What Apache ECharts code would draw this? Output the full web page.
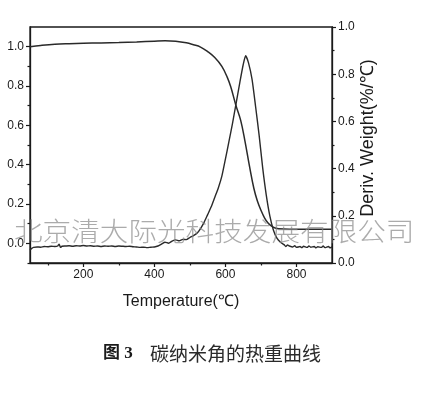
<!DOCTYPE html>
<html>
<head>
<meta charset="utf-8">
<script src="https://cdn.jsdelivr.net/npm/echarts@6/dist/echarts.min.js"></script>
<style>
html,body{margin:0;padding:0;background:#fff;}
#chart{width:435px;height:395px;}
</style>
</head>
<body>
<div id="chart"></div>
<script>
// ---- data ----
const tgTemps  = [50, 80, 120, 160, 200, 250, 300, 350, 400, 430, 460, 490, 510, 530, 550, 570, 590, 605, 615, 629, 643, 655, 668, 680, 690, 700, 710, 720, 730, 740, 750, 780, 820, 900];
const tgValues = [1.000, 1.006, 1.012, 1.015, 1.017, 1.019, 1.021, 1.024, 1.028, 1.030, 1.028, 1.020, 1.010, 0.998, 0.975, 0.945, 0.900, 0.845, 0.796, 0.705, 0.625, 0.520, 0.390, 0.280, 0.215, 0.168, 0.130, 0.103, 0.087, 0.078, 0.074, 0.072, 0.072, 0.072];

const dtgTemps  = [50, 55, 60, 70, 80, 90, 100, 110, 120, 128, 132, 136, 140, 150, 160, 170, 180, 190, 200, 210, 220, 230, 240, 250, 260, 270, 280, 290, 300, 310, 320, 330, 340, 350, 360, 370, 380, 390, 400, 410, 420, 430, 440, 450, 460, 470, 480, 490, 500, 510, 520, 530, 540, 550, 560, 570, 580, 590, 600, 610, 620, 630, 640, 650, 657, 665, 675, 685, 695, 705, 715, 725, 735, 745, 755, 765, 770, 775, 780, 790, 795, 800, 810, 815, 820, 830, 835, 840, 850, 855, 860, 870, 875, 880, 890, 895, 900];
const dtgValues = [0.055, 0.062, 0.066, 0.068, 0.067, 0.070, 0.069, 0.071, 0.070, 0.072, 0.080, 0.066, 0.071, 0.072, 0.073, 0.071, 0.073, 0.072, 0.074, 0.072, 0.073, 0.071, 0.072, 0.070, 0.072, 0.071, 0.072, 0.070, 0.072, 0.071, 0.070, 0.071, 0.069, 0.068, 0.066, 0.067, 0.065, 0.067, 0.068, 0.072, 0.080, 0.088, 0.084, 0.093, 0.098, 0.094, 0.100, 0.099, 0.108, 0.116, 0.126, 0.146, 0.172, 0.205, 0.238, 0.278, 0.318, 0.368, 0.440, 0.515, 0.592, 0.675, 0.760, 0.840, 0.878, 0.848, 0.778, 0.662, 0.540, 0.402, 0.288, 0.200, 0.140, 0.105, 0.088, 0.078, 0.070, 0.076, 0.072, 0.068, 0.073, 0.066, 0.070, 0.065, 0.071, 0.066, 0.072, 0.067, 0.070, 0.064, 0.069, 0.066, 0.072, 0.065, 0.070, 0.064, 0.068];

const xMajorTicks = [200, 400, 600, 800];
const xMinorTicks = [100, 300, 500, 700];
const leftMajorTicks = [0.0, 0.2, 0.4, 0.6, 0.8, 1.0];
const leftMinorTicks = [-0.1, 0.1, 0.3, 0.5, 0.7, 0.9];

const xTitle = 'Temperature(℃)';
const rightTitle = 'Deriv. Weight(%/℃)';
const watermark = '北京清大际光科技发展有限公司';
const captionBold = '图 3';
const captionText = '碳纳米角的热重曲线';

// ---- chart ----
const chart = echarts.init(document.getElementById('chart'), null, {renderer: 'canvas'});
const ink = '#1a1a1a';
const lblFont = {color: ink, fontSize: 12, fontFamily: 'Liberation Sans, Arial, sans-serif'};
const axLine = {show: true, onZero: false, lineStyle: {color: ink, width: 1.3}};

const tgData = tgTemps.map((t, i) => [t, tgValues[i]]);
const dtgData = dtgTemps.map((t, i) => [t, dtgValues[i]]);

chart.setOption({
  animation: false,
  backgroundColor: '#fff',
  grid: {left: 30, right: 103, top: 27, bottom: 132, show: true, borderColor: ink, borderWidth: 1.3, backgroundColor: 'transparent'},
  xAxis: [
    {
      type: 'value', min: 50, max: 900, position: 'bottom',
      axisLine: axLine,
      axisTick: {show: true, inside: false, length: 4, lineStyle: {color: ink, width: 1.2}, customValues: xMajorTicks},
      axisLabel: {show: true, margin: 6, ...lblFont, customValues: xMajorTicks, formatter: v => String(v)},
      splitLine: {show: false},
      name: xTitle, nameLocation: 'middle', nameGap: 31,
      nameTextStyle: {color: ink, fontSize: 16, fontFamily: 'Liberation Sans, Arial, sans-serif'}
    },
    {
      type: 'value', min: 50, max: 900, position: 'bottom',
      axisLine: {show: false, onZero: false},
      axisTick: {show: true, inside: false, length: 2.5, lineStyle: {color: ink, width: 1.2}, customValues: xMinorTicks},
      axisLabel: {show: false},
      splitLine: {show: false}
    }
  ],
  yAxis: [
    {
      type: 'value', min: -0.1, max: 1.1, position: 'left',
      axisLine: axLine,
      axisTick: {show: true, inside: false, length: 4, lineStyle: {color: ink, width: 1.2}, customValues: leftMajorTicks},
      axisLabel: {show: true, margin: 6, ...lblFont, customValues: leftMajorTicks, formatter: v => v.toFixed(1)},
      splitLine: {show: false}
    },
    {
      type: 'value', min: 0, max: 1.0, interval: 0.2, position: 'right',
      axisLine: axLine,
      axisTick: {show: true, inside: false, length: 4, lineStyle: {color: ink, width: 1.2}},
      minorTick: {show: true, splitNumber: 2, length: 2.5, lineStyle: {color: ink, width: 1.2}},
      axisLabel: {show: true, margin: 6, ...lblFont, formatter: v => v.toFixed(1)},
      splitLine: {show: false}
    },
    {
      type: 'value', min: -0.1, max: 1.1, position: 'left',
      axisLine: {show: false, onZero: false},
      axisTick: {show: true, inside: false, length: 2.5, lineStyle: {color: ink, width: 1.2}, customValues: leftMinorTicks},
      axisLabel: {show: false},
      splitLine: {show: false}
    }
  ],
  series: [
    {
      name: 'TG', type: 'line', xAxisIndex: 0, yAxisIndex: 0, data: tgData,
      showSymbol: false, smooth: 0.4,
      lineStyle: {color: '#2a2a2a', width: 1.5}
    },
    {
      name: 'DTG', type: 'line', xAxisIndex: 0, yAxisIndex: 1, data: dtgData,
      showSymbol: false, smooth: 0.2,
      lineStyle: {color: '#2a2a2a', width: 1.4}
    }
  ],
  graphic: [
    {
      type: 'text', left: 14, top: 218, z: 100, scaleX: 1.1,
      style: {text: watermark, fontSize: 26, fill: 'rgba(135,135,135,0.7)', fontFamily: '"Noto Sans CJK SC", sans-serif', fontWeight: 300}
    },
    {
      type: 'text', x: 368, y: 138, rotation: Math.PI / 2,
      style: {text: rightTitle, fontSize: 18, fill: ink, fontFamily: 'Liberation Sans, Arial, sans-serif', align: 'center', verticalAlign: 'middle'}
    },
    {
      type: 'text', x: 103, y: 354,
      style: {text: captionBold, fontSize: 17, fontWeight: 'bold', fill: ink, fontFamily: '"Liberation Serif", "Noto Sans CJK SC", serif', verticalAlign: 'middle'}
    },
    {
      type: 'text', x: 150, y: 354,
      style: {text: captionText, fontSize: 19, fill: '#2a2a2a', fontFamily: '"Noto Sans CJK SC", sans-serif', verticalAlign: 'middle'}
    }
  ]
});
</script>
</body>
</html>
